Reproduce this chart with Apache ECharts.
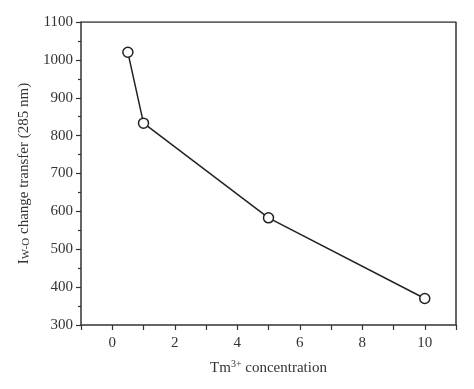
<!DOCTYPE html>
<html><head><meta charset="utf-8">
<script src="https://cdn.jsdelivr.net/npm/echarts@6/dist/echarts.min.js"></script>
<style>html,body{margin:0;padding:0;background:#fff}#c{width:474px;height:389px}</style>
</head><body><div id="c"></div>
<script>
const concentration = [0.5, 1, 5, 10];
const intensity = [1020, 833, 583, 370];
const xTickLabels = [0, 2, 4, 6, 8, 10];
const yTickLabels = [300, 400, 500, 600, 700, 800, 900, 1000, 1100];

const font = 'Liberation Serif';
const chart = echarts.init(document.getElementById('c'));
const axisLine = {show: true, onZero: false, lineStyle: {color: '#333', width: 1.5}};
chart.setOption({
  animation: false,
  backgroundColor: '#fff',
  grid: {left: 81, right: 18, top: 22, bottom: 64, show: false},
  xAxis: {
    type: 'value', min: -1, max: 11, interval: 1,
    axisLine: axisLine,
    axisTick: {show: true, inside: false, length: 5, lineStyle: {color: '#333', width: 1.2}},
    splitLine: {show: false},
    axisLabel: {fontFamily: font, fontSize: 15, color: '#333', margin: 11,
      formatter: v => xTickLabels.includes(v) ? String(v) : ''},
    name: '{n|Tm}{s|3+}{n| concentration}',
    nameLocation: 'middle', nameGap: 34,
    nameTextStyle: {rich: {
      n: {fontFamily: font, fontSize: 15, color: '#333'},
      s: {fontFamily: font, fontSize: 10, color: '#333', verticalAlign: 'top', padding: [0, 0, 8, 0]}
    }}
  },
  yAxis: {
    type: 'value', min: 300, max: 1100, interval: 100,
    axisLine: axisLine,
    axisTick: {show: true, inside: false, length: 5, lineStyle: {color: '#333', width: 1.2}},
    minorTick: {show: true, splitNumber: 2, length: 3, lineStyle: {color: '#333', width: 1.2}},
    splitLine: {show: false},
    axisLabel: {fontFamily: font, fontSize: 15, color: '#333', margin: 8,
      formatter: v => yTickLabels.includes(v) ? String(v) : ''},
    name: '{n|I}{s|W-O}{n| change transfer (285 nm)}',
    nameLocation: 'middle', nameGap: 46,
    nameTextStyle: {rich: {
      n: {fontFamily: font, fontSize: 15, color: '#333'},
      s: {fontFamily: font, fontSize: 11, color: '#333', verticalAlign: 'bottom', padding: [6, 0, 0, 0]}
    }}
  },
  series: [{
    type: 'line',
    data: concentration.map((c, i) => [c, intensity[i]]),
    symbol: 'circle', symbolSize: 10,
    itemStyle: {color: '#fff', borderColor: '#222', borderWidth: 1.5},
    lineStyle: {color: '#222', width: 1.5},
    z: 3
  }, {
    type: 'line', silent: true, symbol: 'none',
    data: [[-1, 1100], [11, 1100], [11, 300]],
    lineStyle: {color: '#333', width: 1.5}, z: 1
  }]
});
</script></body></html>
